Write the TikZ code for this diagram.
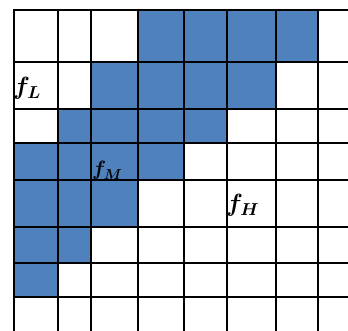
\documentclass[tikz,border=0pt]{standalone}
\usepackage{amsmath,bm}
\usepackage{xcolor}
\usepackage{tikz}
\usetikzlibrary{positioning}
\definecolor{azulcelda}{HTML}{4F81BD}
\tikzset{
  celda/.style={fill=azulcelda},
  rejilla/.style={line width=2pt,black},
  etiq/.style={inner sep=0pt,font=\fontsize{26}{30}\selectfont}
}

\begin{document}
\begin{tikzpicture}[x=1pt,y=-1pt]
\useasboundingbox (0,0) rectangle (348,331);
\fill[white] (0,0) rectangle (348,331);
% bandas azules
\fill[celda] (138,10) rectangle (318,62);
\fill[celda] (91,62) rectangle (276,109);
\fill[celda] (58,109) rectangle (227,143);
\fill[celda] (14,143) rectangle (184,180);
\fill[celda] (14,180) rectangle (138,227);
\fill[celda] (14,227) rectangle (91,263);
\fill[celda] (14,263) rectangle (58,297);
% rejilla irregular
\foreach \x in {14,58,91,138,184,227,276,318}
  \draw[rejilla] (\x,9) -- (\x,331);
\foreach \y in {10,62,109,143,180,227,263,297}
  \draw[rejilla] (13,\y) -- (348,\y);
% etiquetas
\node[etiq,anchor=base west] (fL) at (13,95) {$\bm{f_{L}}$};
\node[etiq,anchor=base west,font=\fontsize{21}{24}\selectfont] (fM) at (92,176) {$\bm{f_{M}}$};
\node[etiq,anchor=base west] (fH) at (226,212) {$\bm{f_{H}}$};
\end{tikzpicture}
\end{document}
